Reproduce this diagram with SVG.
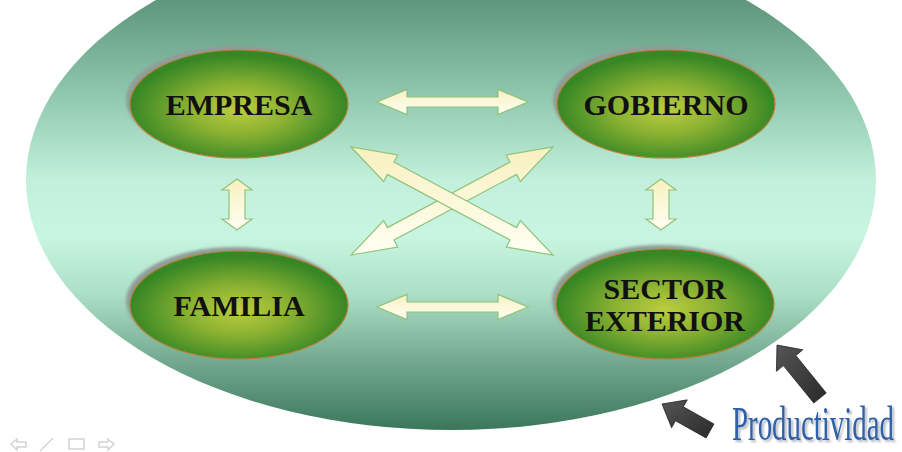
<svg xmlns="http://www.w3.org/2000/svg" width="902" height="452" viewBox="0 0 902 452">
<defs>
<linearGradient id="bg" gradientUnits="userSpaceOnUse" x1="0" y1="0" x2="0" y2="430">
<stop offset="0" stop-color="#5d967b"/>
<stop offset="0.22" stop-color="#8fc8ae"/>
<stop offset="0.42" stop-color="#c2f0dc"/>
<stop offset="0.55" stop-color="#c8f5e1"/>
<stop offset="0.68" stop-color="#ade0c8"/>
<stop offset="0.85" stop-color="#6fa68b"/>
<stop offset="1" stop-color="#3b765b"/>
</linearGradient>
<radialGradient id="node" cx="0.5" cy="0.55" r="0.5">
<stop offset="0" stop-color="#bccd3e"/>
<stop offset="0.45" stop-color="#8cb232"/>
<stop offset="1" stop-color="#378725"/>
</radialGradient>
<linearGradient id="cream" x1="0" y1="0" x2="0" y2="1">
<stop offset="0" stop-color="#f8f0c0"/>
<stop offset="1" stop-color="#fffff4"/>
</linearGradient>
<linearGradient id="dark" x1="0" y1="0" x2="1" y2="1">
<stop offset="0" stop-color="#555"/>
<stop offset="1" stop-color="#2a2a2a"/>
</linearGradient>
<filter id="blur" x="-10%" y="-10%" width="120%" height="120%">
<feGaussianBlur stdDeviation="1.5"/>
</filter>
<filter id="tshadow" x="-5%" y="-20%" width="110%" height="140%">
<feDropShadow dx="2" dy="2" stdDeviation="0.8" flood-color="#8a96a4" flood-opacity="0.7"/>
</filter>
</defs>
<style>
.nodeShape{fill:url(#node);stroke:#b5823a;stroke-width:1.2}
.shadow{fill:#8f9c98;filter:url(#blur)}
.lbl{font-family:"Liberation Serif","Times New Roman",serif;font-weight:bold;font-size:30px;fill:#111;text-anchor:middle}
.arr{fill:url(#cream);stroke:#8fc27a;stroke-width:1.2;stroke-linejoin:miter}
.darr{fill:url(#dark);stroke:#222;stroke-width:0.8}
.nav{fill:none;stroke:#d3d3d3;stroke-width:1.5}
</style>
<rect width="902" height="452" fill="#ffffff"/>
<ellipse id="background" cx="451" cy="180" rx="425" ry="250" fill="url(#bg)"/>

<g id="empresa">
<ellipse class="shadow" cx="235" cy="100" rx="109" ry="54"/>
<ellipse class="nodeShape" cx="239" cy="104" rx="109" ry="54"/>
<text class="lbl" x="239" y="115">EMPRESA</text>
</g>
<g id="gobierno">
<ellipse class="shadow" cx="662" cy="100" rx="109" ry="54"/>
<ellipse class="nodeShape" cx="666" cy="104" rx="109" ry="54"/>
<text class="lbl" x="666" y="115">GOBIERNO</text>
</g>
<g id="familia">
<ellipse class="shadow" cx="235" cy="301" rx="109" ry="54"/>
<ellipse class="nodeShape" cx="239" cy="305" rx="109" ry="54"/>
<text class="lbl" x="239" y="316">FAMILIA</text>
</g>
<g id="sector-exterior">
<ellipse class="shadow" cx="661" cy="300" rx="109" ry="55"/>
<ellipse class="nodeShape" cx="665" cy="304" rx="109" ry="55"/>
<text class="lbl" x="665" y="299">SECTOR</text>
<text class="lbl" x="665" y="331">EXTERIOR</text>
</g>

<g id="connectors">
<polygon class="arr" points="377,102 407,89.5 407,97 498,97 498,89.5 528,102 498,114.5 498,107 407,107 407,114.5"/>
<polygon class="arr" points="377,307 407,294.5 407,302 498,302 498,294.5 528,307 498,319.5 498,312 407,312 407,319.5"/>
<polygon class="arr" points="237,179 252,190 245,190 245,219 252,219 237,230 222,219 229,219 229,190 222,190"/>
<polygon class="arr" points="661,179 676,190 669,190 669,219 676,219 661,230 646,219 653,219 653,190 646,190"/>
<polygon class="arr" points="351,255 397.76,247.01 393.99,239.95 516.61,174.39 520.38,181.45 553,147 506.24,154.99 510.01,162.05 387.39,227.61 383.62,220.55"/>
<polygon class="arr" points="351,147 383.62,181.45 387.39,174.39 510.01,239.95 506.24,247.01 553,255 520.38,220.55 516.61,227.61 393.99,162.05 397.76,154.99"/>
<polygon class="darr" points="777,345 802.8,349.82 795.81,355.49 826.21,392.96 813.79,403.04 783.39,365.57 776.4,371.24"/>
<polygon class="darr" points="662,404 687.27,399.86 683.35,406.84 713.92,424.03 706.08,437.97 675.51,420.78 671.59,427.76"/>
</g>

<g id="productividad">
<text x="732" y="440" font-family="Liberation Serif, Times New Roman, serif" font-size="48" textLength="162" lengthAdjust="spacingAndGlyphs" fill="#2f62a8" filter="url(#tshadow)">Productividad</text>
</g>

<g id="nav">
<path class="nav" d="M11,444 L17,439 L17,442 L26,442 L26,447 L17,447 L17,450 Z"/>
<path class="nav" d="M40,451 L53,438"/>
<rect class="nav" x="69" y="439" width="15" height="10" fill="#e6e6e6"/>
<path class="nav" d="M114,444 L108,439 L108,442 L99,442 L99,447 L108,447 L108,450 Z"/>
</g>
</svg>
